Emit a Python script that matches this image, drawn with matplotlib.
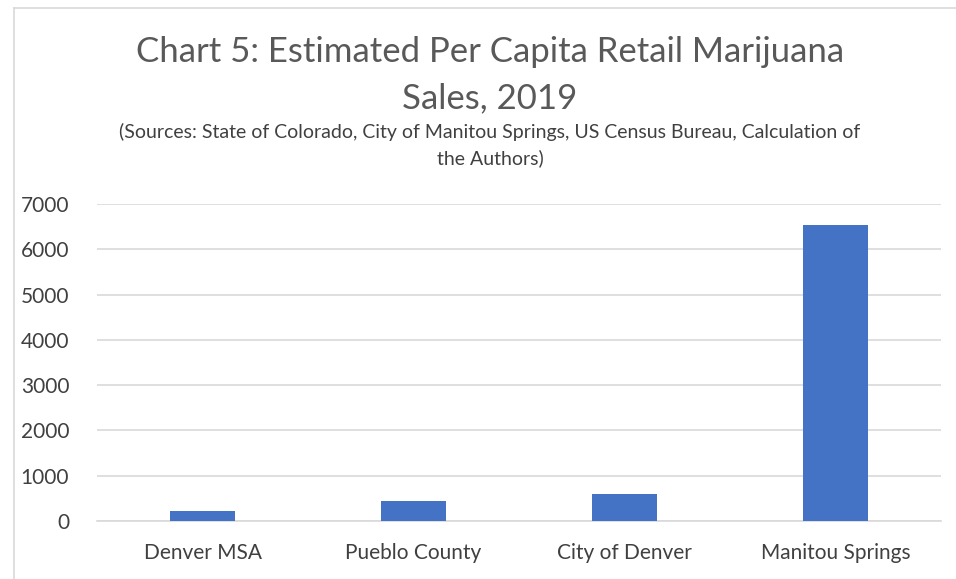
import matplotlib
matplotlib.use("Agg")
import matplotlib.pyplot as plt
from matplotlib.lines import Line2D

categories = ["Denver MSA", "Pueblo County", "City of Denver", "Manitou Springs"]
sales_per_capita = [210, 450, 600, 6530]
y_ticks = [0, 1000, 2000, 3000, 4000, 5000, 6000, 7000]

plt.rcParams["font.family"] = ["Lato", "DejaVu Sans"]

W, H = 956, 579
fig = plt.figure(figsize=(W / 100, H / 100), dpi=100)
fig.patch.set_facecolor("white")

ax = fig.add_axes([97 / W, 58 / H, 844 / W, 317 / H])
x = list(range(len(categories)))
ax.bar(x, sales_per_capita, width=0.31, color="#4472C4", zorder=3)

ax.set_xlim(-0.5, len(categories) - 0.5)
ax.set_ylim(0, 7000)
ax.set_yticks(y_ticks)
ax.set_yticklabels([str(v) for v in y_ticks])
ax.set_xticks(x)
ax.set_xticklabels(categories)
ax.grid(axis="y", color="#D9D9D9", linewidth=1.2, zorder=0)
ax.tick_params(axis="both", length=0, labelsize=15, colors="#404040")
ax.tick_params(axis="y", pad=20)
ax.tick_params(axis="x", pad=16)
for side in ["top", "right", "left"]:
    ax.spines[side].set_visible(False)
ax.spines["bottom"].set_color("#D9D9D9")
ax.spines["bottom"].set_linewidth(1.2)

fig.text(490 / W, 1 - 52 / H, "Chart 5: Estimated Per Capita Retail Marijuana",
         ha="center", va="center", fontsize=25, color="#595959")
fig.text(490 / W, 1 - 98 / H, "Sales, 2019",
         ha="center", va="center", fontsize=25, color="#595959")
fig.text(490 / W, 1 - 132 / H,
         "(Sources: State of Colorado, City of Manitou Springs, US Census Bureau, Calculation of",
         ha="center", va="center", fontsize=14, color="#404040")
fig.text(490 / W, 1 - 158 / H, "the Authors)",
         ha="center", va="center", fontsize=14, color="#404040")

# chart area frame
fig.add_artist(Line2D([14 / W, 14 / W], [0, 1 - 8 / H], transform=fig.transFigure,
                      color="#D9D9D9", linewidth=1.2))
fig.add_artist(Line2D([14 / W, 1], [1 - 8 / H, 1 - 8 / H], transform=fig.transFigure,
                      color="#D9D9D9", linewidth=1.2))

fig.savefig("out.png", dpi=100)
